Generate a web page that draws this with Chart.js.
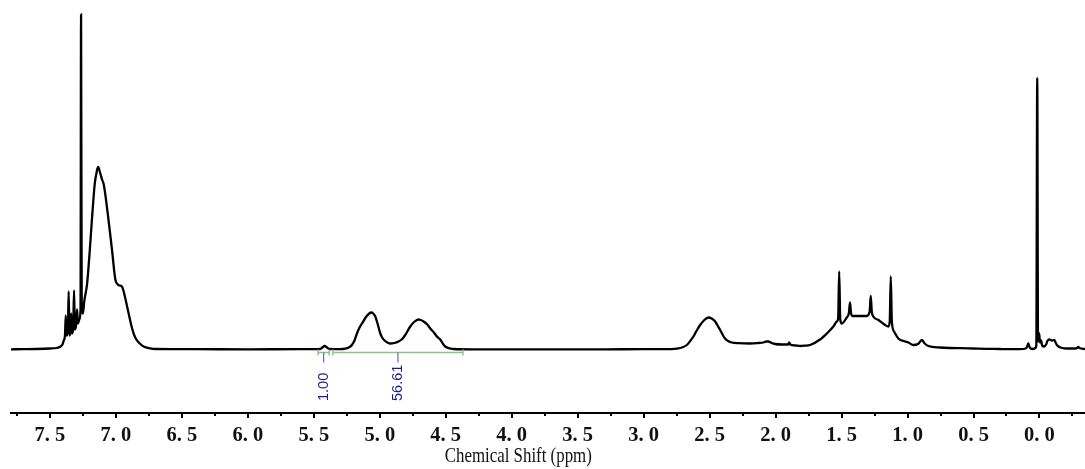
<!DOCTYPE html>
<html>
<head>
<meta charset="utf-8">
<script src="https://cdn.jsdelivr.net/npm/chart.js@4"></script>
<style>
  html, body { margin: 0; padding: 0; background: #fff; }
  #wrap { width: 1085px; height: 469px; }
</style>
</head>
<body>
<div id="wrap"><canvas id="nmrChart" width="1085" height="469"></canvas></div>
<script>
// spectrum: chemical shift (ppm) and intensity (arb.)
const aromaticPpm = [7.795, 7.70, 7.60, 7.50, 7.45, 7.42, 7.405, 7.395, 7.386, 7.380, 7.374, 7.364, 7.358, 7.352, 7.345, 7.339, 7.333, 7.324, 7.317, 7.311, 7.302, 7.294, 7.288, 7.276, 7.268, 7.264, 7.259, 7.250, 7.240, 7.218, 7.198, 7.180, 7.160, 7.145, 7.135, 7.120, 7.105, 7.092, 7.059, 7.029, 7.004, 6.985, 6.971, 6.955, 6.945, 6.930, 6.915, 6.895, 6.877, 6.860, 6.845, 6.830, 6.815, 6.790, 6.740, 6.700, 6.40, 6.00, 5.60];
const aromaticInt = [0.2, 0.3, 0.5, 1.0, 1.5, 3, 5, 9, 14, 34, 14, 18, 58, 14, 18, 36, 16, 20, 59, 20, 24, 40, 26, 30, 40, 335, 40, 36, 48, 66, 99, 133, 166, 178, 182.5, 177, 170, 165, 133, 99, 70, 65, 64, 63, 60, 52, 43, 31, 21, 14, 10, 7.5, 5.5, 3, 1.2, 0.5, 0.3, 0.2, 0.3];

const olefinPpm = [5.50, 5.451, 5.435, 5.418, 5.400, 5.383, 5.30, 5.261, 5.235, 5.211, 5.190, 5.173, 5.155, 5.135, 5.102, 5.080, 5.064, 5.050, 5.034, 5.017, 4.996, 4.980, 4.964, 4.940, 4.920, 4.890, 4.858, 4.830, 4.807, 4.769, 4.740, 4.706, 4.690, 4.668, 4.640, 4.617, 4.590, 4.567, 4.542, 4.520, 4.504, 4.470, 4.441, 4.30, 3.80, 3.30, 3.00];
const olefinInt = [0.3, 0.5, 2, 3.5, 2, 0.5, 0.3, 0.8, 2, 4.5, 9.5, 16, 21.5, 26, 33, 36, 37, 36, 33, 26, 16, 11.5, 9, 6.8, 6, 6.5, 8, 10.5, 14.5, 23, 27.5, 30, 29.5, 28, 25, 21, 17, 13, 10, 5.5, 3, 1.2, 0.5, 0.2, 0.2, 0.2, 0.3];

const aliphaticPpm = [2.90, 2.80, 2.748, 2.700, 2.673, 2.650, 2.623, 2.600, 2.572, 2.540, 2.509, 2.485, 2.458, 2.440, 2.420, 2.400, 2.383, 2.360, 2.332, 2.280, 2.193, 2.130, 2.092, 2.070, 2.055, 2.030, 2.004, 1.950, 1.905, 1.897, 1.889, 1.850, 1.814, 1.780, 1.739, 1.663, 1.612, 1.562, 1.536, 1.526, 1.518, 1.510, 1.498, 1.461, 1.445, 1.436, 1.428, 1.415, 1.309, 1.287, 1.279, 1.271, 1.259, 1.221, 1.170, 1.145, 1.135, 1.127, 1.119, 1.102, 1.070, 1.019, 0.994, 0.956, 0.920, 0.892, 0.870, 0.842, 0.754, 0.678];
const aliphaticInt = [0.3, 0.4, 0.8, 2.5, 4.5, 8, 13, 18.5, 24.5, 29.5, 32, 31, 28, 24, 19.5, 14.5, 11, 8.5, 7, 6.3, 6, 6.5, 7, 8, 8, 6.5, 5.5, 5, 5, 7, 5, 4, 3.5, 3.8, 4.5, 10, 16, 23, 28, 31, 78, 30, 26, 32, 36, 47, 36, 33.5, 33.5, 38, 53.5, 38, 33, 29.5, 24.5, 23, 28, 73, 28, 18, 11, 8, 7, 4.5, 5.5, 9.5, 6, 3.5, 2, 1.5];

const tmsPpm = [0.60, 0.50, 0.40, 0.30, 0.248, 0.15, 0.105, 0.093, 0.085, 0.077, 0.065, 0.047, 0.032, 0.024, 0.017, 0.011, 0.006, 0.002, -0.004, -0.012, -0.020, -0.035, -0.050, -0.062, -0.075, -0.095, -0.112, -0.122, -0.135, -0.160, -0.200, -0.270, -0.285, -0.294, -0.303, -0.345];
const tmsInt = [1.3, 1.0, 0.7, 0.5, 0.3, 0.3, 1, 3, 6, 3, 0.8, 0.5, 1.5, 4, 271.5, 8, 10, 16, 7, 9, 4, 3, 5, 9, 10, 9, 9.5, 7, 4, 2, 1, 1, 1.5, 2.5, 1.5, 0.5];

// integrals: region start / end (ppm) and value
const integralFrom = [5.468, 5.355];
const integralTo = [5.383, 4.370];
const integralValue = ['1.00', '56.61'];

// axis ticks
const majorTicks = [7.5, 7.0, 6.5, 6.0, 5.5, 5.0, 4.5, 4.0, 3.5, 3.0, 2.5, 2.0, 1.5, 1.0, 0.5, 0.0];
const minorTicks = [7.75, 7.25, 6.75, 6.25, 5.75, 5.25, 4.75, 4.25, 3.75, 3.25, 2.75, 2.25, 1.75, 1.25, 0.75, 0.25, -0.25];
const xTitle = 'Chemical Shift (ppm)';

const shifts = [].concat(aromaticPpm, olefinPpm, aliphaticPpm, tmsPpm);
const intens = [].concat(aromaticInt, olefinInt, aliphaticInt, tmsInt);
const points = shifts.map((p, i) => ({ x: p, y: intens[i] }));

// tick marks, integral bars and axis title
const nmrDecor = {
  id: 'nmrDecor',
  afterDraw(chart) {
    const ctx = chart.ctx;
    const xs = chart.scales.x;
    const axisY = chart.chartArea.bottom;
    ctx.save();

    ctx.strokeStyle = '#000';
    ctx.lineWidth = 2;
    minorTicks.forEach(v => {
      const px = Math.round(xs.getPixelForValue(v));
      ctx.beginPath(); ctx.moveTo(px, axisY); ctx.lineTo(px, axisY + 3); ctx.stroke();
    });
    majorTicks.forEach(v => {
      const px = Math.round(xs.getPixelForValue(v));
      ctx.beginPath(); ctx.moveTo(px, axisY); ctx.lineTo(px, axisY + 5); ctx.stroke();
    });

    // integrals
    const barY = 352.5;
    integralFrom.forEach((a, i) => {
      const x1 = xs.getPixelForValue(a);
      const x2 = xs.getPixelForValue(integralTo[i]);
      const xm = (x1 + x2) / 2;
      ctx.strokeStyle = '#8cc48c';
      ctx.lineWidth = 1.5;
      ctx.beginPath();
      ctx.moveTo(x1, barY); ctx.lineTo(x2, barY);
      ctx.moveTo(x1, barY - 3); ctx.lineTo(x1, barY + 3);
      ctx.moveTo(x2, barY - 3); ctx.lineTo(x2, barY + 3);
      ctx.stroke();
      ctx.strokeStyle = '#6a6aa8';
      ctx.lineWidth = 1.2;
      ctx.beginPath(); ctx.moveTo(xm, barY); ctx.lineTo(xm, barY + 10); ctx.stroke();

      ctx.save();
      ctx.translate(xm + 0.5, 401);
      ctx.rotate(-Math.PI / 2);
      ctx.fillStyle = '#1c1c86';
      ctx.font = '14.5px "Liberation Sans", Arial, sans-serif';
      ctx.textAlign = 'left';
      ctx.textBaseline = 'middle';
      ctx.fillText(integralValue[i], 0, 0);
      ctx.restore();
    });

    // axis title (narrow, tall face as in the original)
    ctx.fillStyle = '#111';
    ctx.font = '21px "Liberation Serif", serif';
    ctx.textBaseline = 'alphabetic';
    ctx.textAlign = 'center';
    const w = ctx.measureText(xTitle).width;
    const cx = xs.getPixelForValue(3.95);
    ctx.translate(cx, 462);
    ctx.scale(147 / w, 1);
    ctx.fillText(xTitle, 0, 0);
    ctx.restore();
  }
};

new Chart(document.getElementById('nmrChart').getContext('2d'), {
  type: 'line',
  data: {
    datasets: [{
      data: points,
      borderColor: '#000',
      borderWidth: 2.3,
      pointRadius: 0,
      cubicInterpolationMode: 'monotone',
      fill: false
    }]
  },
  options: {
    responsive: false,
    animation: false,
    devicePixelRatio: 1,
    layout: { padding: { left: 11, right: 0, top: 0, bottom: 0 } },
    plugins: { legend: { display: false }, tooltip: { enabled: false } },
    scales: {
      x: {
        type: 'linear',
        reverse: true,
        min: -0.345,
        max: 7.795,
        afterBuildTicks: scale => { scale.ticks = majorTicks.map(v => ({ value: v })); },
        afterFit: scale => { scale.height = 56; },
        grid: { display: false, drawTicks: false },
        border: { display: true, color: '#000', width: 2 },
        ticks: {
          autoSkip: false,
          maxRotation: 0,
          padding: 10,
          color: '#111',
          font: { family: '"Liberation Serif", serif', size: 20.5, weight: 'bold' },
          callback: v => v.toFixed(1).replace('.', '. ')
        }
      },
      y: {
        display: false,
        min: -63.5,
        max: 349.5
      }
    }
  },
  plugins: [nmrDecor]
});
</script>
</body>
</html>
